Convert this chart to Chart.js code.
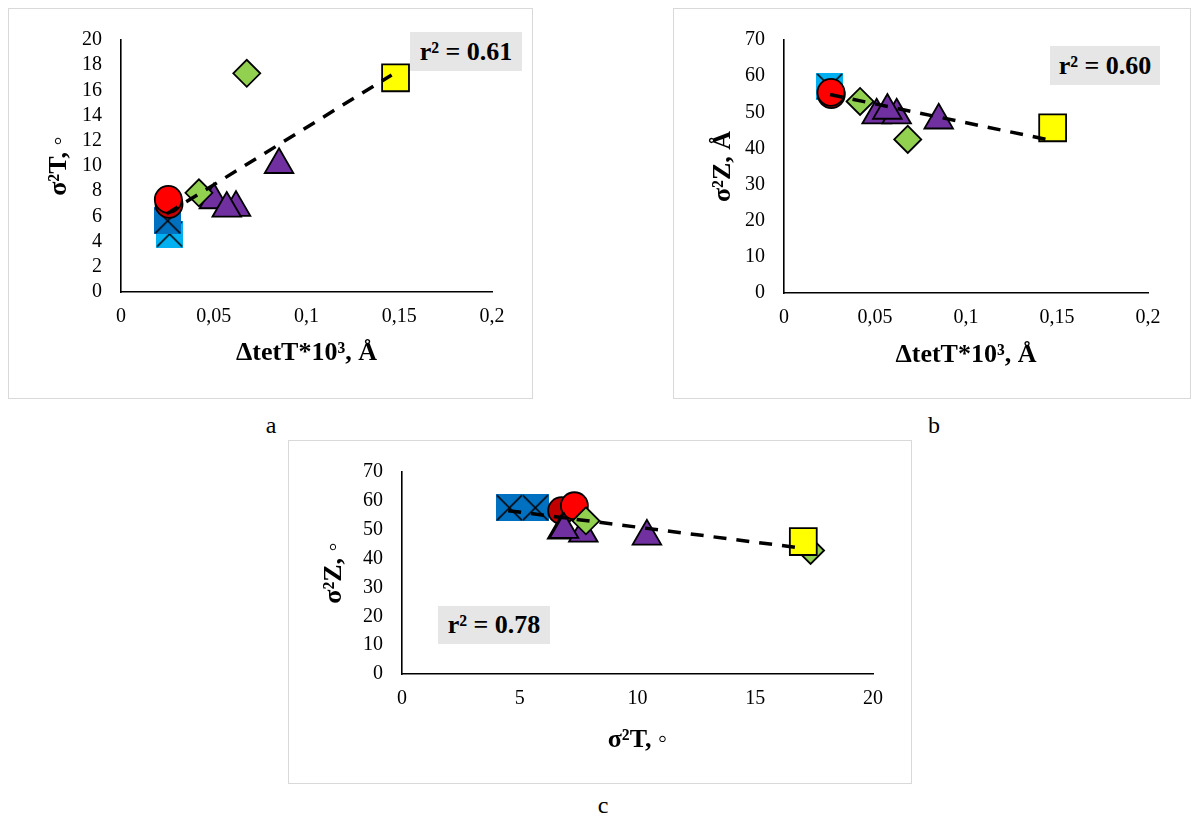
<!DOCTYPE html>
<html><head><meta charset="utf-8">
<script src="https://cdn.jsdelivr.net/npm/chart.js@4.4.0/dist/chart.umd.min.js"></script>
<style>
html,body{margin:0;padding:0;background:#fff;}
body{width:1192px;height:816px;position:relative;overflow:hidden;font-family:"Liberation Serif","Times New Roman",serif;color:#000;}
.frame{position:absolute;border:1px solid #d9d9d9;box-sizing:border-box;background:#fff;}
.frame canvas{position:absolute;left:0;top:0;display:block;}
.r2{position:absolute;background:#e7e6e6;font-weight:bold;font-size:26px;text-align:center;}
.lab{position:absolute;font-size:24px;transform:translate(-50%,-50%);}
</style></head><body>
<div class="frame" style="left:8px;top:8px;width:525px;height:391px"><canvas id="ca" width="523" height="389"></canvas></div>
<div class="frame" style="left:673px;top:8px;width:518px;height:391px"><canvas id="cb" width="516" height="389"></canvas></div>
<div class="frame" style="left:288px;top:440px;width:624px;height:344px"><canvas id="cc" width="622" height="342"></canvas></div>
<div class="r2" style="left:410px;top:32px;width:112px;height:39px;line-height:39px">r² = 0.61</div>
<div class="r2" style="left:1050px;top:46px;width:110px;height:39px;line-height:39px">r² = 0.60</div>
<div class="r2" style="left:438px;top:606px;width:112px;height:38px;line-height:38px">r² = 0.78</div>
<div class="lab" style="left:271px;top:425px">a</div>
<div class="lab" style="left:934px;top:425px">b</div>
<div class="lab" style="left:603px;top:805px">c</div>
<script>
// ---------- Chart a: ΔtetT*10^3 (x) vs σ²T (y) ----------
const a_yellow_x = [0.148];           const a_yellow_y = [17.0];
const a_green_x  = [0.042, 0.0678];   const a_green_y  = [7.87, 17.36];
const a_purple_x = [0.0852, 0.062, 0.0501, 0.057];
const a_purple_y = [10.1, 6.7, 7.3, 6.63];
const a_red_x    = [0.0259, 0.0255];  const a_red_y    = [6.96, 7.35];
const a_dblue_x  = [0.0252];          const a_dblue_y  = [5.65];
const a_lblue_x  = [0.0262];          const a_lblue_y  = [4.6];
const a_trend_x  = [0.0246, 0.1459];  const a_trend_y  = [6.2, 17.23];

// ---------- Chart b: ΔtetT*10^3 (x) vs σ²Z (y) ----------
const b_yellow_x = [0.1476];          const b_yellow_y = [45.7];
const b_green_x  = [0.0418, 0.068];   const b_green_y  = [53.0, 42.5];
const b_purple_x = [0.085, 0.0509, 0.0619, 0.0568];
const b_purple_y = [47.8, 49.2, 49.2, 50.5];
const b_red_x    = [0.026, 0.0258];   const b_red_y    = [54.9, 55.5];
const b_lblue_x  = [0.0251];          const b_lblue_y  = [57.2];
const b_dblue_x  = [0.0251];          const b_dblue_y  = [57.2];
const b_trend_x  = [0.0253, 0.148];   const b_trend_y  = [54.9, 42.1];

// ---------- Chart c: σ²T (x) vs σ²Z (y) ----------
const c_yellow_x = [17.04];           const c_yellow_y = [45.9];
const c_green_x  = [17.35, 7.81];     const c_green_y  = [42.8, 53.1];
const c_purple_x = [10.4, 6.8, 7.7, 6.88];
const c_purple_y = [47.7, 49.8, 48.7, 50.0];
const c_red_x    = [6.78, 7.32];      const c_red_y    = [56.6, 58.3];
const c_blue_x   = [4.56, 5.66];      const c_blue_y   = [57.6, 57.6];
const c_trend_x  = [4.51, 16.9];      const c_trend_y  = [56.6, 43.7];

// tick values
const ticksDtet = [0, 0.05, 0.1, 0.15, 0.2];
const ticksS2T  = [0, 2, 4, 6, 8, 10, 12, 14, 16, 18, 20];
const ticksS2Z  = [0, 10, 20, 30, 40, 50, 60, 70];
const ticksS2Tc = [0, 5, 10, 15, 20];

const FONT = "'Liberation Serif','Times New Roman',serif";
const COL = {yellow:'#FFFF00', green:'#92D050', purple:'#7030A0', red:'#FF0000', dred:'#C00000', dblue:'#0070C0', lblue:'#00B0F0'};

function pts(xs, ys){ return xs.map((x,i)=>({x:x, y:ys[i]})); }
function xSquare(color){
  const s = 27, c = document.createElement('canvas');
  c.width = s; c.height = s;
  const g = c.getContext('2d');
  g.fillStyle = color; g.fillRect(0,0,s,s);
  g.strokeStyle = '#000'; g.lineWidth = 1.6;
  g.beginPath(); g.moveTo(1,1); g.lineTo(s-1,s-1); g.moveTo(s-1,1); g.lineTo(1,s-1); g.stroke();
  return c;
}
function fmt(v){ return String(parseFloat(Number(v).toFixed(4))).replace('.', ','); }

function trendDS(xs, ys){
  return {data:pts(xs,ys), showLine:true, pointRadius:0, borderColor:'#000', borderWidth:3.5,
          borderDash:[13,10], borderCapStyle:'butt', fill:false};
}
function markDS(xs, ys, style, color, radius, extra){
  return Object.assign({data:pts(xs,ys), pointStyle:style, pointRadius:radius, pointHoverRadius:radius,
          backgroundColor:color, borderColor:'#000', borderWidth:1.8, showLine:false}, extra||{});
}
function tickSet(vals){ return function(scale){ scale.ticks = vals.map(v=>({value:v})); }; }

function axis(min, max, vals, title, size, titlePad, isX){
  return {
    type:'linear', min:min, max:max,
    afterBuildTicks: tickSet(vals),
    grid:{display:false, drawTicks:false},
    border:{display:true, color:'#000', width:1.6},
    ticks:{color:'#000', font:{family:FONT, size:20}, padding:isX?13:19, autoSkip:false, maxRotation:0, callback:fmt},
    title:{display:true, text:title, color:'#000', font:{family:FONT, size:26, weight:'bold'}, padding:titlePad},
    afterFit: function(s){ if(isX) s.height = size; else s.width = size; }
  };
}

function makeChart(id, datasets, pad, xAxis, yAxis){
  return new Chart(document.getElementById(id), {
    type:'scatter',
    data:{datasets:datasets},
    options:{
      responsive:false, animation:false, devicePixelRatio:1,
      layout:{padding:pad},
      plugins:{legend:{display:false}, tooltip:{enabled:false}},
      events:[],
      scales:{x:xAxis, y:yAxis}
    }
  });
}

// Chart a
makeChart('ca', [
  trendDS(a_trend_x, a_trend_y),
  markDS(a_yellow_x, a_yellow_y, 'rect', COL.yellow, 19),
  markDS(a_green_x, a_green_y, 'rectRot', COL.green, 13.5),
  markDS(a_purple_x, a_purple_y, 'triangle', COL.purple, 16.5),
  markDS(a_red_x, a_red_y, 'circle', [COL.dred, COL.red], 13.5),
  markDS(a_dblue_x, a_dblue_y, xSquare(COL.dblue), COL.dblue, 13.5),
  markDS(a_lblue_x, a_lblue_y, xSquare(COL.lblue), COL.lblue, 13.5)
], {top:28, right:40, left:0, bottom:0},
  axis(0, 0.2, ticksDtet, 'ΔtetT*10³, Å', 106, {top:0, bottom:29}, true),
  axis(0, 20, ticksS2T, 'σ²T, ◦', 112, {top:35, bottom:0}, false));

// Chart b
makeChart('cb', [
  trendDS(b_trend_x, b_trend_y),
  markDS(b_yellow_x, b_yellow_y, 'rect', COL.yellow, 19),
  markDS(b_green_x, b_green_y, 'rectRot', COL.green, 13.5),
  markDS(b_purple_x, b_purple_y, 'triangle', COL.purple, 16.5),
  markDS(b_red_x, b_red_y, 'circle', [COL.dred, COL.red], 13.5),
  markDS(b_lblue_x, b_lblue_y, xSquare(COL.lblue), COL.lblue, 13.5),
  markDS(b_dblue_x, b_dblue_y, xSquare(COL.dblue), COL.dblue, 13.5)
], {top:28, right:42, left:0, bottom:0},
  axis(0, 0.2, ticksDtet, 'ΔtetT*10³, Å', 105, {top:0, bottom:27}, true),
  axis(0, 70, ticksS2Z, 'σ²Z, Å', 110, {top:34, bottom:0}, false));

// Chart c
makeChart('cc', [
  trendDS(c_trend_x, c_trend_y),
  markDS(c_yellow_x, c_yellow_y, 'rect', COL.yellow, 19),
  markDS(c_green_x, c_green_y, 'rectRot', COL.green, 13.5),
  markDS(c_purple_x, c_purple_y, 'triangle', COL.purple, 16.5),
  markDS(c_red_x, c_red_y, 'circle', [COL.dred, COL.red], 13.5),
  markDS(c_blue_x, c_blue_y, xSquare(COL.dblue), COL.dblue, 13.5)
], {top:30, right:38, left:0, bottom:0},
  axis(0, 20, ticksS2Tc, 'σ²T, ◦', 109, {top:0, bottom:27}, true),
  axis(0, 70, ticksS2Z, 'σ²Z, ◦', 113, {top:30, bottom:0}, false));
</script>
</body></html>
